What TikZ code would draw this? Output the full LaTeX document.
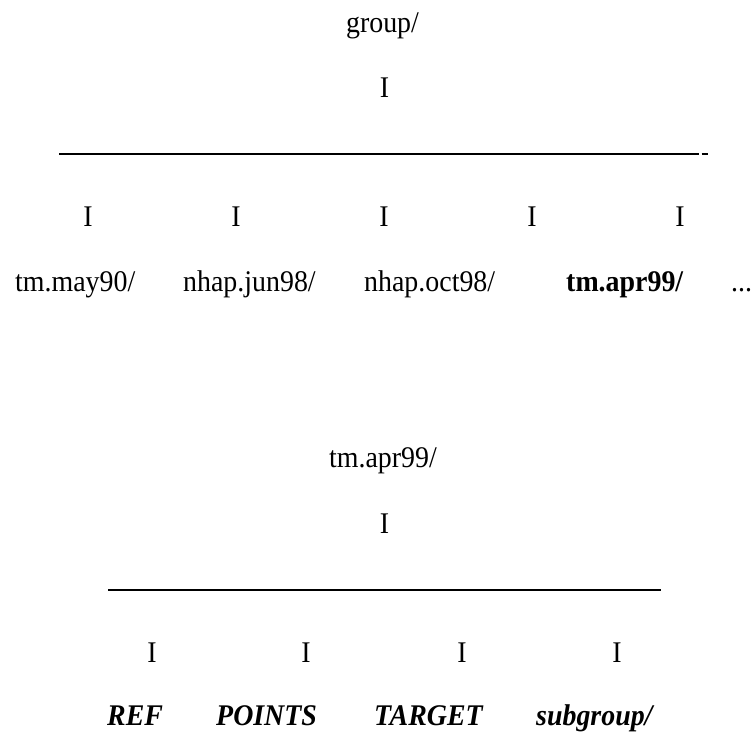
\documentclass[tikz,border=0pt]{standalone}
\usepackage{fontspec}
\setmainfont[FakeStretch=0.93]{Liberation Serif}
\begin{document}
\begin{tikzpicture}[x=1pt,y=-1pt,
  txt/.style={inner sep=0pt, anchor=base, font=\fontsize{30}{36}\selectfont},
  lft/.style={txt, anchor=base west},
  emph/.style={lft, font=\fontsize{30}{36}\selectfont\bfseries\itshape},
  bar/.style={line width=1.4pt, black}]
\useasboundingbox (0,0) rectangle (754,732);
% top tree
\node[txt] (g) at (382.5,32) {group/};
\node[txt] (gi) at (384.5,97) {I};
\coordinate (l1a) at (59,154);
\coordinate (l1b) at (699,154);
\coordinate (d1a) at (701.5,154);
\coordinate (d1b) at (708,154);
\draw[bar] (l1a) -- (l1b);
\draw[bar] (d1a) -- (d1b);
\node[txt] (i1) at (88,226) {I};
\node[txt] (i2) at (236,226) {I};
\node[txt] (i3) at (384,226) {I};
\node[txt] (i4) at (532,226) {I};
\node[txt] (i5) at (680,226) {I};
\node[lft] (t1) at (15,291) {tm.may90/};
\node[lft] (t2) at (183,291) {nhap.jun98/};
\node[lft] (t3) at (364,291) {nhap.oct98/};
\node[lft, font=\fontsize{30}{36}\selectfont\bfseries] (t4) at (566,291) {tm.apr99/};
\node[lft] (t5) at (731,291) {...};
% bottom tree
\node[txt] (a) at (383,467) {tm.apr99/};
\node[txt] (ai) at (384.5,533) {I};
\coordinate (l2a) at (108,590);
\coordinate (l2b) at (661,590);
\draw[bar] (l2a) -- (l2b);
\node[txt] (j1) at (152,662) {I};
\node[txt] (j2) at (306,662) {I};
\node[txt] (j3) at (462,662) {I};
\node[txt] (j4) at (617,662) {I};
\node[emph] (b1) at (107,725) {REF};
\node[emph] (b2) at (216,725) {POINTS};
\node[emph] (b3) at (374,725) {TARGET};
\node[emph] (b4) at (536,725) {subgroup/};
\end{tikzpicture}
\end{document}
